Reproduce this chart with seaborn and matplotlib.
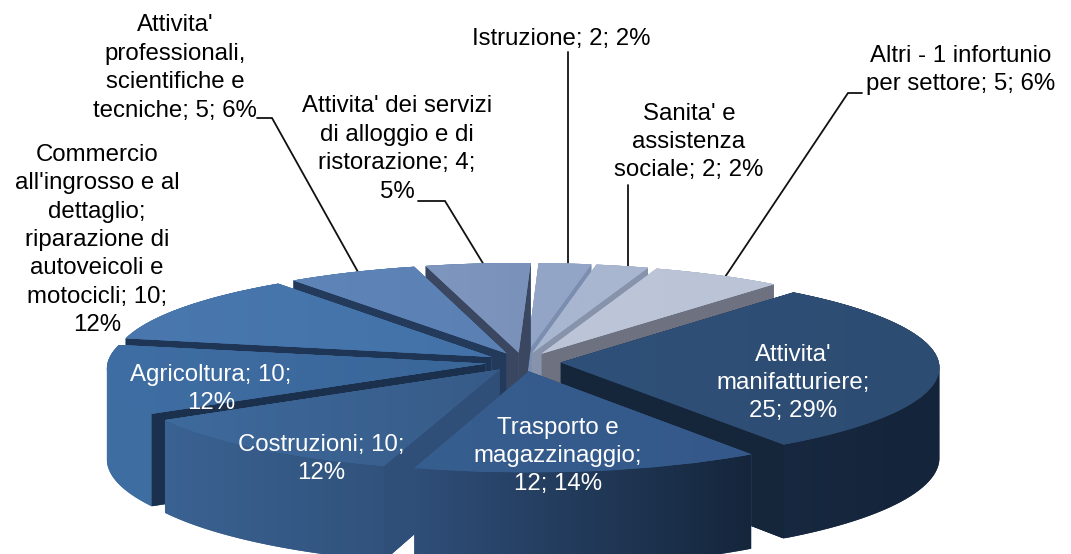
import numpy as np
import matplotlib
matplotlib.use("Agg")
import matplotlib.pyplot as plt
import matplotlib.transforms as mtrans
from matplotlib.patches import Polygon
from matplotlib.colors import to_rgb
import seaborn as sns

categories = ["Attivita' manifatturiere", "Trasporto e magazzinaggio", "Costruzioni", "Agricoltura",
              "Commercio all'ingrosso e al dettaglio; riparazione di autoveicoli e motocicli",
              "Attivita' professionali, scientifiche e tecniche",
              "Attivita' dei servizi di alloggio e di ristorazione",
              "Istruzione", "Sanita' e assistenza sociale", "Altri - 1 infortunio per settore"]
values = [25, 12, 10, 10, 10, 5, 4, 2, 2, 5]

label_texts = ["Attivita'\nmanifatturiere;\n25; 29%", "Trasporto e\nmagazzinaggio;\n12; 14%",
               "Costruzioni; 10;\n12%", "Agricoltura; 10;\n12%",
               "Commercio\nall'ingrosso e al\ndettaglio;\nriparazione di\nautoveicoli e\nmotocicli; 10;\n12%",
               "Attivita'\nprofessionali,\nscientifiche e\ntecniche; 5; 6%",
               "Attivita' dei servizi\ndi alloggio e di\nristorazione; 4;\n5%",
               "Istruzione; 2; 2%", "Sanita' e\nassistenza\nsociale; 2; 2%",
               "Altri - 1 infortunio\nper settore; 5; 6%"]
label_x = [793, 558, 321, 211, 97, 175, 397, 561, 689, 961]
label_y = [383, 456, 459, 389, 240, 68, 149, 39, 142, 70]
label_colors = ["white", "white", "white", "white", "black", "black", "black", "black", "black", "black"]

top_left = ["#2F5078", "#365E8E", "#3E6A9C", "#3F6EA4", "#4A78AE", "#5F85B8", "#7F96BE", "#93A5C7", "#A9B6D0", "#BCC6D8"]
top_right = ["#2D4C72", "#34588A", "#375B88", "#3A6698", "#4272A8", "#5A80B4", "#7A92BA", "#93A5C7", "#A9B6D0", "#BAC4D6"]
side_left = ["#1A2E48", "#2F4E78", "#3A6292", "#3F6EA2", "#3F6EA2", "#3F6EA2", "#3F6EA2", "#8A9ABA", "#8A9ABA", "#8A9ABA"]
side_right = ["#14243A", "#15263C", "#2C4A70", "#3A6698", "#3A6698", "#3A6698", "#3A6698", "#8A9ABA", "#8A9ABA", "#8A9ABA"]
face_colors = ["#15263A", "#2F4E78", "#2F4E78", "#1B304C", "#1F3555", "#233A5A", "#3B4760", "#7C8EAF", "#8793AB", "#6E7280"]

leaders = [([568, 568], [52, 265]),
           ([862, 848, 725], [93, 93, 277]),
           ([628, 628], [185, 267]),
           ([418, 445, 484], [201, 201, 265]),
           ([257, 272, 358], [118, 118, 272])]

CX, CY, RX, RY, PERSP, DEPTH = 523, 362, 378, 95, 0.05, 90


class Projection(mtrans.Transform):
    input_dims = 2
    output_dims = 2

    def __init__(self, z=0.0):
        super().__init__()
        self.z = z

    def transform_non_affine(self, values):
        values = np.asarray(values, float)
        s = 1.0 / (1.0 + PERSP * values[:, 1])
        return np.column_stack([CX + RX * values[:, 0] * s,
                                CY - RY * values[:, 1] * s + self.z * s])


def hull(points):
    pts = sorted(set(map(tuple, np.round(points, 3))))
    def half(seq):
        out = []
        for p in seq:
            while len(out) > 1 and ((out[-1][0] - out[-2][0]) * (p[1] - out[-2][1])
                                    - (out[-1][1] - out[-2][1]) * (p[0] - out[-2][0])) <= 0:
                out.pop()
            out.append(p)
        return out[:-1]
    return np.array(half(pts) + half(pts[::-1]))


def gradient(ax, c1, c2, clip_patch, bbox, zorder):
    ramp = np.linspace(0, 1, 64)[:, None]
    rgb = (1 - ramp) * np.array(to_rgb(c1)) + ramp * np.array(to_rgb(c2))
    im = ax.imshow(rgb[None, :, :], extent=bbox, aspect="auto", zorder=zorder, interpolation="bilinear")
    im.set_clip_path(clip_patch)
    return im


sns.set_theme(style="white")
plt.rcParams["font.family"] = ["Liberation Sans", "DejaVu Sans"]

fig = plt.figure(figsize=(10.71, 5.54), dpi=100)
ax = fig.add_axes([0, 0, 1, 1])
wedges, _ = ax.pie(values, explode=[0.1] * len(values), startangle=50, counterclock=False,
                   radius=1.0, colors=top_left, wedgeprops={"linewidth": 0})

top = Projection(0.0)
bottom = Projection(DEPTH)
pix = ax.transData

order = sorted(range(len(values)), key=lambda i: -np.sin(np.radians((wedges[i].theta1 + wedges[i].theta2) / 2)))
for rank, i in enumerate(order):
    w = wedges[i]
    t1, t2 = w.theta1, w.theta2
    z = 10 + rank * 5
    ang = np.radians(np.linspace(t1, t2, 60))
    cx, cy = w.center
    rim = np.column_stack([cx + w.r * np.cos(ang), cy + w.r * np.sin(ang)])
    apex = np.array([[cx, cy]])
    plan = np.vstack([apex, rim])
    p_top = top.transform_non_affine(plan)
    p_bot = bottom.transform_non_affine(plan)
    poly = hull(np.vstack([p_top, p_bot]))
    clip = Polygon(poly, closed=True, transform=pix, facecolor=side_left[i], edgecolor="none", zorder=z)
    ax.add_patch(clip)
    xs = poly[:, 0]
    ys = poly[:, 1]
    gradient(ax, side_left[i], side_right[i], clip, (xs.min(), xs.max(), ys.max(), ys.min()), z + 0.5)
    # visible radial cut faces
    for th, is_low in ((t1, True), (t2, False)):
        c = np.cos(np.radians(th))
        if (is_low and c > 0) or (not is_low and c < 0):
            e = np.array([[cx, cy], [cx + w.r * np.cos(np.radians(th)), cy + w.r * np.sin(np.radians(th))]])
            et = top.transform_non_affine(e)
            eb = bottom.transform_non_affine(e)
            ax.add_patch(Polygon(np.vstack([et, eb[::-1]]), closed=True, transform=pix,
                                 facecolor=face_colors[i], edgecolor="none", zorder=z + 1))
    w.set_transform(top + pix)
    w.set_zorder(z + 2)
    ptop_x = p_top[:, 0]
    ptop_y = p_top[:, 1]
    gradient(ax, top_left[i], top_right[i], w,
             (ptop_x.min(), ptop_x.max(), ptop_y.max(), ptop_y.min()), z + 3)

for (lx, ly) in leaders:
    ax.plot(lx, ly, color="#111111", lw=1.3, zorder=5, solid_joinstyle="miter")

for txt, x, y, col in zip(label_texts, label_x, label_y, label_colors):
    ax.text(x, y, txt, color=col, ha="center", va="center", fontsize=17.3, linespacing=1.38, zorder=200)

ax.set_xlim(0, 1071)
ax.set_ylim(554, 0)
ax.set_aspect("auto")
ax.axis("off")
fig.savefig("out.png", dpi=100, facecolor="white")
